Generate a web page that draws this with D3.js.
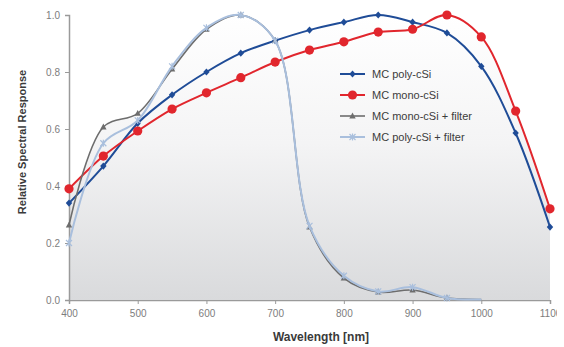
<!DOCTYPE html>
<html>
<head>
<meta charset="utf-8">
<script src="https://cdn.jsdelivr.net/npm/d3@7/dist/d3.min.js"></script>
<style>
  html, body { margin: 0; padding: 0; background: #fff; }
  svg { display: block; }
  text { font-family: "Liberation Sans", Arial, sans-serif; }
</style>
</head>
<body>
<svg id="chart" width="564" height="347"></svg>
<script>
// Wavelength samples (nm) and relative spectral response per module type
const wavelengths = [400, 450, 500, 550, 600, 650, 700, 750, 800, 850, 900, 950, 1000, 1050, 1100];
const polySi       = [0.34, 0.47, 0.62, 0.72, 0.80, 0.866, 0.91, 0.947, 0.975, 1.0, 0.975, 0.937, 0.82, 0.586, 0.256];
const monoSi       = [0.39, 0.505, 0.593, 0.67, 0.727, 0.78, 0.835, 0.877, 0.906, 0.94, 0.95, 1.0, 0.923, 0.663, 0.32];
// filtered modules are only sampled up to 1000 nm
const monoFilter   = [0.263, 0.607, 0.655, 0.81, 0.95, 1.0, 0.91, 0.256, 0.077, 0.028, 0.035, 0.007, 0.002, null, null];
const polyFilter   = [0.2, 0.55, 0.63, 0.82, 0.955, 1.0, 0.91, 0.26, 0.085, 0.03, 0.045, 0.007, 0.002, null, null];
const xTicks = [400, 500, 600, 700, 800, 900, 1000, 1100];
const yTicks = [0, 0.2, 0.4, 0.6, 0.8, 1.0];
const seriesNames = ["MC poly-cSi", "MC mono-cSi", "MC mono-cSi + filter", "MC poly-cSi + filter"];

const series = [
  { name: seriesNames[0], values: polySi,     color: "#1f4c97", width: 2,   marker: "diamond" },
  { name: seriesNames[1], values: monoSi,     color: "#e1262d", width: 2,   marker: "circle" },
  { name: seriesNames[2], values: monoFilter, color: "#6d6d6d", width: 1.6, marker: "triangle" },
  { name: seriesNames[3], values: polyFilter, color: "#a9bfdd", width: 2,   marker: "cross" }
];

const svg = d3.select("#chart");
const x = d3.scaleLinear().domain([400, 1100]).range([69, 550]);
const y = d3.scaleLinear().domain([0, 1]).range([300, 15]);
const curve = d3.curveCatmullRom.alpha(0.5);
const has = d => d !== null;

// soft vertical gradient underneath the curves
const defs = svg.append("defs");
const grad = defs.append("linearGradient")
  .attr("id", "bgGrad").attr("gradientUnits", "userSpaceOnUse")
  .attr("x1", 0).attr("y1", y(1)).attr("x2", 0).attr("y2", y(0));
grad.append("stop").attr("offset", "0%").attr("stop-color", "#ffffff");
grad.append("stop").attr("offset", "45%").attr("stop-color", "#f4f4f5");
grad.append("stop").attr("offset", "100%").attr("stop-color", "#d9dadc");

defs.append("clipPath").attr("id", "edgeClip")
  .append("rect").attr("x", 0).attr("y", 0).attr("width", 557).attr("height", 347);

const area = d3.area()
  .defined(has)
  .x((d, i) => x(wavelengths[i]))
  .y0(y(0))
  .y1(d => y(d))
  .curve(curve);

svg.append("g").selectAll("path")
  .data(series)
  .join("path")
  .attr("d", s => area(s.values))
  .attr("fill", "url(#bgGrad)");

// axes
const axisColor = "#9a9a9a";
const xAxis = svg.append("g")
  .attr("transform", `translate(0,${y(0)})`)
  .attr("clip-path", "url(#edgeClip)")
  .call(d3.axisBottom(x).tickValues(xTicks).tickFormat(d3.format("d")).tickSizeOuter(0).tickSize(4).tickPadding(6));
const yAxis = svg.append("g")
  .attr("transform", `translate(${x(400)},0)`)
  .call(d3.axisLeft(y).tickValues(yTicks).tickFormat(d3.format(".1f")).tickSizeOuter(0).tickSize(4).tickPadding(5));

[xAxis, yAxis].forEach(g => {
  g.select(".domain").attr("stroke", axisColor).attr("stroke-width", 1.5);
  g.selectAll(".tick line").attr("stroke", axisColor).attr("stroke-width", 1);
  g.selectAll(".tick text")
    .attr("fill", "#7d7d7d")
    .style("font-size", "10px")
    .style("font-family", "'Liberation Sans', Arial, sans-serif");
});

// axis titles
svg.append("text")
  .attr("x", 321).attr("y", 341)
  .attr("text-anchor", "middle")
  .attr("fill", "#3a3a3a")
  .style("font-size", "12px").style("font-weight", "bold")
  .text("Wavelength [nm]");
svg.append("text")
  .attr("transform", "translate(26,142) rotate(-90)")
  .attr("text-anchor", "middle")
  .attr("fill", "#3a3a3a")
  .style("font-size", "11px").style("font-weight", "bold")
  .text("Relative Spectral Response");

// marker drawing helper
function drawMarker(g, type, color) {
  if (type === "diamond") {
    g.append("path").attr("d", "M0,-3.6L3.2,0L0,3.6L-3.2,0Z").attr("fill", color);
  } else if (type === "circle") {
    g.append("circle").attr("r", 4.6).attr("fill", color);
  } else if (type === "triangle") {
    g.append("path").attr("d", "M0,-3.4L3.2,2.4L-3.2,2.4Z").attr("fill", color);
  } else {
    g.append("path").attr("d", "M-3,-3L3,3M-3,3L3,-3M0,-3.5L0,3.5")
      .attr("stroke", color).attr("stroke-width", 1.2).attr("fill", "none");
  }
}

const line = d3.line()
  .defined(has)
  .x((d, i) => x(wavelengths[i]))
  .y(d => y(d))
  .curve(curve);

series.forEach(s => {
  const g = svg.append("g");
  g.append("path")
    .attr("d", line(s.values))
    .attr("fill", "none")
    .attr("stroke", s.color)
    .attr("stroke-width", s.width)
    .attr("stroke-linejoin", "round");
  s.values.forEach((v, i) => {
    if (v === null || v < 0.005) return;
    const m = g.append("g").attr("transform", `translate(${x(wavelengths[i])},${y(v)})`);
    drawMarker(m, s.marker, s.color);
  });
});

// legend
const legend = svg.append("g").attr("transform", "translate(340,74)");
series.forEach((s, i) => {
  const row = legend.append("g").attr("transform", `translate(0,${i * 21})`);
  row.append("line").attr("x1", 0).attr("x2", 25).attr("y1", 0).attr("y2", 0)
    .attr("stroke", s.color).attr("stroke-width", s.width);
  const m = row.append("g").attr("transform", "translate(12.5,0)");
  drawMarker(m, s.marker, s.color);
  row.append("text")
    .attr("x", 32).attr("y", 4)
    .attr("fill", "#3c3c3c")
    .style("font-size", "11px")
    .text(s.name);
});
</script>
</body>
</html>
